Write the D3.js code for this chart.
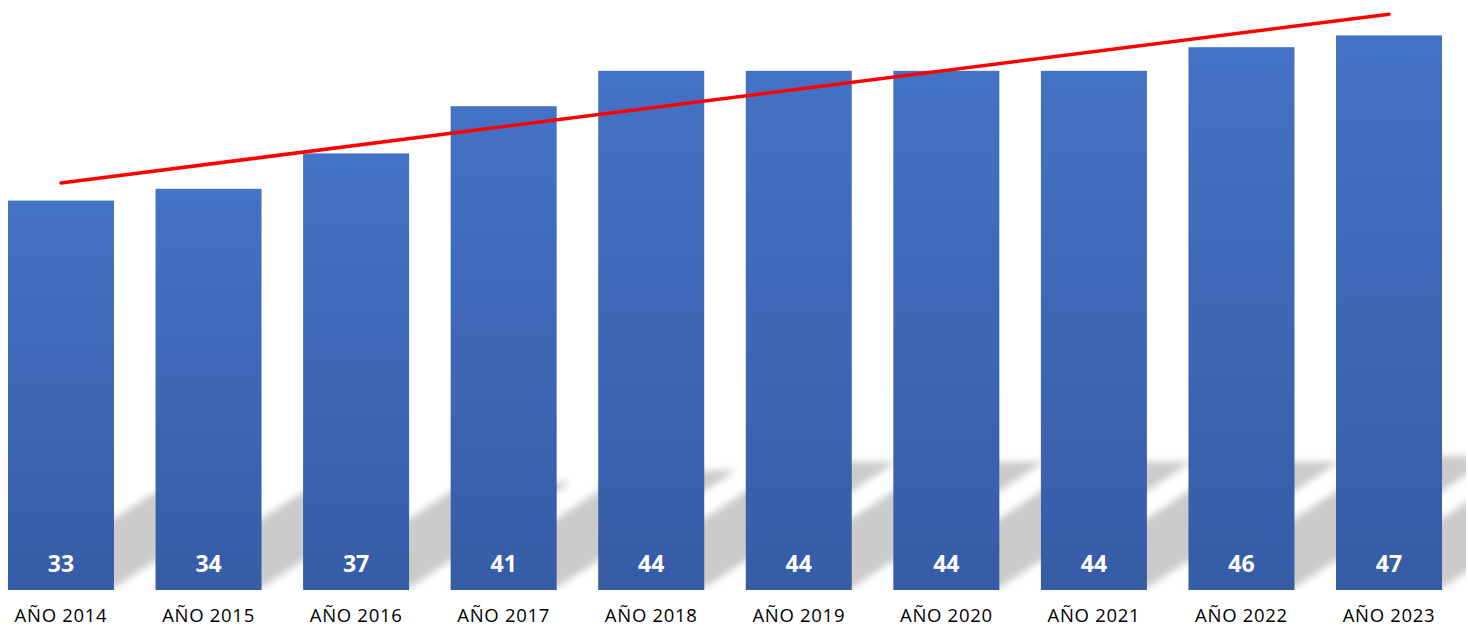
<!DOCTYPE html>
<html>
<head>
<meta charset="utf-8">
<script src="https://cdn.jsdelivr.net/npm/d3@7"></script>
<style>
  html, body { margin: 0; padding: 0; background: #fff; }
  svg { display: block; }
</style>
</head>
<body>
<svg id="chart" width="1468" height="628"></svg>
<script>
// ---- data ----
const categories = ["AÑO 2014", "AÑO 2015", "AÑO 2016", "AÑO 2017", "AÑO 2018",
                    "AÑO 2019", "AÑO 2020", "AÑO 2021", "AÑO 2022", "AÑO 2023"];
const values = [33, 34, 37, 41, 44, 44, 44, 44, 46, 47];
// linear trendline: value at first and last category
const trendCategories = ["AÑO 2014", "AÑO 2023"];
const trendValues = [34.5, 48.8];

// ---- layout ----
const W = 1468, H = 628;
const baseY = 590;
const svg = d3.select("#chart");

const x = d3.scaleBand()
  .domain(categories)
  .range([-12.8, 1462.8])
  .paddingInner(0.2816)
  .paddingOuter(0.1408);

const y = d3.scaleLinear().domain([0, 50]).range([baseY, 0]);

const defs = svg.append("defs");
const grad = defs.append("linearGradient")
  .attr("id", "barGrad").attr("x1", 0).attr("y1", 0).attr("x2", 0).attr("y2", 1);
grad.append("stop").attr("offset", "0%").attr("stop-color", "#4472C4");
grad.append("stop").attr("offset", "100%").attr("stop-color", "#375CA6");

const blur = defs.append("filter").attr("id", "shadowBlur")
  .attr("x", "-20%").attr("y", "-20%").attr("width", "140%").attr("height", "140%");
blur.append("feGaussianBlur").attr("stdDeviation", 3.5);

defs.append("clipPath").attr("id", "plotClip")
  .append("rect").attr("x", 0).attr("y", 0).attr("width", 1466).attr("height", baseY);

// ---- perspective shadows ----
const shear = 1.5, squash = 0.247;
svg.append("g").attr("clip-path", "url(#plotClip)")
  .append("g").attr("filter", "url(#shadowBlur)")
  .selectAll("path").data(values).join("path")
  .attr("fill", "#cbcbcb")
  .attr("d", (d, i) => {
    const L = x(categories[i]), R = L + x.bandwidth();
    const hs = squash * (baseY - y(d));
    const dx = shear * hs;
    return `M${L},${baseY - 2}L${R},${baseY - 2}L${R + dx},${baseY - hs}L${L + dx},${baseY - hs}Z`;
  });

// ---- bars ----
svg.append("g").selectAll("rect").data(values).join("rect")
  .attr("x", (d, i) => x(categories[i]))
  .attr("y", d => y(d))
  .attr("width", x.bandwidth())
  .attr("height", d => baseY - y(d))
  .attr("fill", "url(#barGrad)");

// ---- value labels ----
svg.append("g").selectAll("text").data(values).join("text")
  .attr("x", (d, i) => x(categories[i]) + x.bandwidth() / 2)
  .attr("y", 572)
  .attr("text-anchor", "middle")
  .attr("font-family", "'Open Sans', sans-serif")
  .attr("font-weight", "bold")
  .attr("font-size", 23)
  .attr("fill", "#ffffff")
  .text(d => d);

// ---- category axis ----
const xAxis = d3.axisBottom(x).tickSize(0).tickPadding(0);
const gx = svg.append("g").attr("transform", `translate(0,${baseY})`).call(xAxis);
gx.select(".domain").remove();
gx.selectAll("text")
  .attr("y", 0).attr("dy", "32px")
  .attr("font-family", "'Open Sans', sans-serif")
  .attr("font-size", 18.5)
  .attr("letter-spacing", "0.7px")
  .attr("fill", "#000");

// ---- trendline ----
const line = d3.line()
  .x((d, i) => x(trendCategories[i]) + x.bandwidth() / 2)
  .y(d => y(d));
svg.append("path")
  .datum(trendValues)
  .attr("d", line)
  .attr("fill", "none")
  .attr("stroke", "#FF0000")
  .attr("stroke-width", 3.5)
  .attr("stroke-linecap", "round");
</script>
</body>
</html>
